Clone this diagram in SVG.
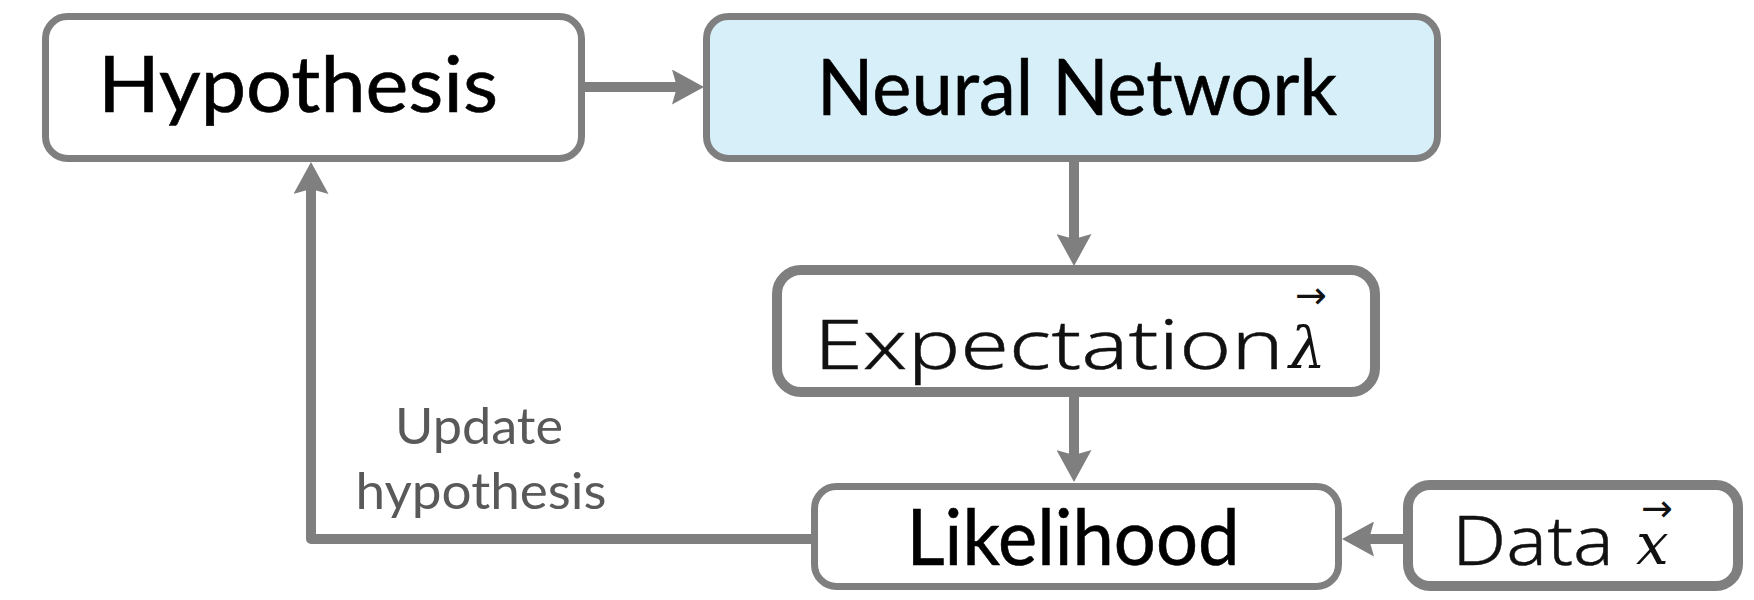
<svg xmlns="http://www.w3.org/2000/svg" width="1754" height="600" viewBox="0 0 1754 600">
  <defs>
    <!-- slightly notched triangular head; the line stops 20px short of the tip -->
    <marker id="arrow" viewBox="0 0 32 35" refX="12" refY="17.5" markerWidth="32" markerHeight="35" markerUnits="userSpaceOnUse" orient="auto">
      <path d="M0,0 L32,17.5 L0,35 L5,17.5 Z" fill="#7f7f7f"/>
    </marker>
    <style>
      .box { fill: #ffffff; stroke: #7f7f7f; stroke-width: 7; }
      .thick { stroke-width: 10; }
      .nn { fill: #d6eff9; }
      .main { font-family: Lato, "Open Sans", sans-serif; font-size: 78px; fill: #000; stroke: #000; stroke-width: 0.6; }
      .light { font-family: "Noto Sans", "Open Sans", sans-serif; font-weight: 300; font-size: 68px; fill: #111; stroke: #111; stroke-width: 0.4; }
      .math { font-family: "DejaVu Serif", "Liberation Serif", serif; font-style: italic; font-size: 58px; fill: #111; }
      .vec { font-family: "DejaVu Sans", sans-serif; font-style: normal; font-size: 38px; fill: #111; }
      .note { font-family: Lato, "Open Sans", sans-serif; font-size: 50px; fill: #595959; }
      .conn { fill: none; stroke: #7f7f7f; stroke-width: 10; stroke-linejoin: round; }
    </style>
  </defs>

  <!-- connectors -->
  <g id="connectors">
    <path class="conn" d="M585,87 H684" marker-end="url(#arrow)"/>
    <path class="conn" d="M1074,160 V246" marker-end="url(#arrow)"/>
    <path class="conn" d="M1074,397 V462" marker-end="url(#arrow)"/>
    <path class="conn" d="M1404,539 H1362" marker-end="url(#arrow)"/>
    <path class="conn" d="M812,539 H311 V182" marker-end="url(#arrow)"/>
    <text class="note" x="479" y="444" text-anchor="middle" textLength="168" lengthAdjust="spacingAndGlyphs">Update</text>
    <text class="note" x="481" y="509" text-anchor="middle" textLength="251" lengthAdjust="spacingAndGlyphs">hypothesis</text>
  </g>

  <g id="hypothesis">
    <rect class="box" x="45.5" y="16.5" width="536" height="142" rx="22"/>
    <text class="main" x="298" y="112" text-anchor="middle" textLength="400" lengthAdjust="spacingAndGlyphs">Hypothesis</text>
  </g>

  <g id="neural-network">
    <rect class="box nn" x="706.5" y="16.5" width="731" height="142" rx="22"/>
    <text class="main" x="1077" y="115" text-anchor="middle" textLength="520" lengthAdjust="spacingAndGlyphs">Neural Network</text>
  </g>

  <g id="expectation">
    <rect class="box thick" x="777" y="270" width="598" height="122" rx="24"/>
    <text class="light" x="814" y="369" textLength="470" lengthAdjust="spacingAndGlyphs">Expectation</text>
    <!-- vector lambda: glyph with an arrow accent above -->
    <text class="math" x="1289" y="368">λ<tspan class="vec" x="1295" y="308">→</tspan></text>
  </g>

  <g id="likelihood">
    <rect class="box" x="814.5" y="486.5" width="524" height="100" rx="22"/>
    <text class="main" x="1073" y="565" text-anchor="middle" textLength="333" lengthAdjust="spacingAndGlyphs">Likelihood</text>
  </g>

  <g id="data">
    <rect class="box thick" x="1408" y="485" width="330" height="101" rx="22"/>
    <text class="light" x="1452" y="565" textLength="162" lengthAdjust="spacingAndGlyphs">Data</text>
    <text class="math" x="1636" y="564">x<tspan class="vec" x="1641" y="521">→</tspan></text>
  </g>
</svg>
